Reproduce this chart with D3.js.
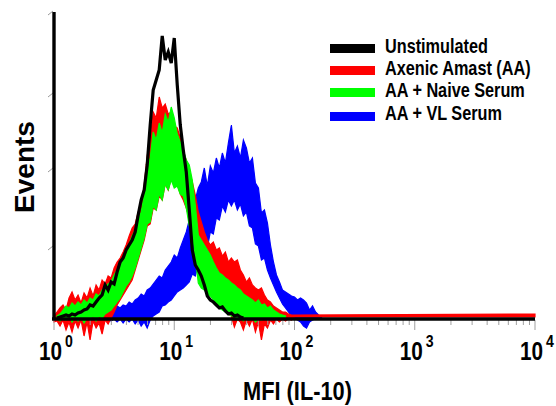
<!DOCTYPE html>
<html><head><meta charset="utf-8">
<script src="https://cdn.jsdelivr.net/npm/d3@7/dist/d3.min.js"></script>
<style>html,body{margin:0;padding:0;background:#fff}svg{display:block}</style>
</head><body><div id="chart"></div>
<script>
// ---- data (events per log channel; 40 channels per decade, MFI = 10^(ch/40)) ----
const channelsPerDecade = 40;
const seriesNames = ["Unstimulated", "Axenic Amast (AA)", "AA + Naive Serum", "AA + VL Serum"];
const seriesColors = ["#000000", "#ff0000", "#00ff00", "#0000ff"];

// Unstimulated (smooth line)
const blackStart = 1;
const blackCounts = [0,1,2,3,2,4,3,5,6,8, 9,13,12,16,20,23,33,28,36,34,
  46,56,60,68,73,78,86,103,118,128, 153,193,228,238,248,282,258,266,255,280,
  233,193,168,146,108,68,53,48,42,33, 22,18,16,13,10,11,7,4,5,2, 3,1,0];

// noisy histograms: upper / lower envelope of the jagged trace
const redStart = 0;
const redUpper = [2,6,10,13,8,20,26,18,23,15, 25,20,30,22,33,28,38,34,42,40,
  50,56,60,66,73,82,90,94,106,112, 133,162,180,206,200,221,210,214,204,206,
  192,190,180,166,158,146,136,123,106,96, 86,78,73,76,68,70,62,66,56,60,
  56,58,48,43,36,40,33,30,28,30, 23,18,16,12,10,8,6,6,4,3, 3];
const redLower = [-4,-3,-8,-2,-12,-4,-14,-3,-10,-2, -18,-4,-22,-3,-10,-5,-16,-2,-6,0,
  6,13,18,23,28,33,38,48,58,68, 78,92,94,110,108,122,118,134,128,140, 132,134,124,118,
  110,100,88,70,50,36,30,28,26,22, 18,13,10,8,4,2,
  -9,-1,-4,-12,-2,-8,-1,-14,-4,-22, -6,-10,-2,-6,-1,-4,-1,-3,-1,-2, 1];
const redTail = {channel: 160, upper: 4, lower: 1};

const greenStart = 1;
const greenUpper = [2,4,8,12,10,15,12,16,13,18, 15,20,18,24,22,28,30,34,36,43,
  48,54,60,68,74,82,88,98,106,123, 150,160,186,178,195,185,204,196,211,200,
  184,176,168,158,153,138,113,83,78,73, 68,63,56,50,45,43,40,38,35,33,
  30,28,24,22,20,18,15,18,13,14, 10,12,8,6,4,3,2];
const greenLower = [-1,-3,1,-2,2,-4,0,-3,1,-5, 0,-2,2,-3,2,0,4,6,8,12,
  16,20,26,32,36,42,50,60,70,80, 94,96,112,108,124,118,134,128,138,130,
  132,124,122,110,92,86,60,35,30,28, 24,22,18,14,10,8,6,4,2,1,
  -2,0,-3,0,-2,0,-4,-1,-2,0, -2,0,-1,0,-1,0,0];

const blueStart = 15;
const blueUpper = [4,8,6,10,7,9,12,10,13,12, 16,14,18,20,24,22,28,30,34,38,
  42,40,48,52,56,63,60,70,78,86, 98,112,118,130,136,150,132,152,145,160,
  150,165,155,175,193,165,172,160,178,170, 155,160,135,130,105,108,95,73,56,43,
  36,28,26,24,22,21,18,20,18,15, 8,12,6,3,1];
const blueLower = [-2,-1,-2,-1,-3,-1,-4,-1,-5,-1, -4,-1,-6,-2,-8,-4,-10,-2,2,4,
  6,12,13,16,18,22,26,28,30,33, 36,44,42,54,52,66,70,86,84,100,
  98,112,106,118,112,118,108,114,102,106, 92,90,74,72,58,60,48,40,33,26,
  20,14,10,6,2,0,-2,-4,-8,-10, -4,-2,-1,0,0];

const xMajorExps = [0, 1, 2, 3, 4];
const xMinorMults = [2, 3, 4, 5, 6, 7, 8, 9];
const yTicks = [70, 148, 223, 305];
const xTitle = "MFI (IL-10)";
const yTitle = "Events";

// ---- chart ----
const W = 556, H = 406;
const svg = d3.select("#chart").append("svg").attr("width", W).attr("height", H);
const x = d3.scaleLog().domain([1, 10000]).range([54, 535]);
const y = d3.scaleLinear().domain([0, 306]).range([318, 12]);
const FONT = "'Liberation Sans', Arial, Helvetica, sans-serif";
const mfi = ch => Math.pow(10, ch / channelsPerDecade);

function band(start, up, lo, tail) {
  const pts = up.map((u, k) => ({m: mfi(start + k), hi: u, lo: lo[k]}));
  if (tail) pts.push({m: mfi(tail.channel), hi: tail.upper, lo: tail.lower});
  return pts;
}
const area = d3.area().x(d => x(d.m)).y0(d => y(d.lo)).y1(d => y(d.hi));

const bands = [
  {pts: band(blueStart, blueUpper, blueLower), c: seriesColors[3]},
  {pts: band(redStart, redUpper, redLower, redTail), c: seriesColors[1]},
  {pts: band(greenStart, greenUpper, greenLower), c: seriesColors[2]}
];
bands.forEach(b => {
  svg.append("path").attr("d", area(b.pts)).attr("fill", b.c)
    .attr("stroke", b.c).attr("stroke-width", 1.2).attr("stroke-linejoin", "miter");
});

// axes ticks
const gx = svg.append("g");
xMajorExps.forEach(e => {
  const tx = x(Math.pow(10, e));
  gx.append("line").attr("x1", tx).attr("x2", tx).attr("y1", 320).attr("y2", 330)
    .attr("stroke", "#a0a0a0").attr("stroke-width", 1);
  if (e < 4) xMinorMults.forEach(m => {
    const mx = x(m * Math.pow(10, e));
    gx.append("line").attr("x1", mx).attr("x2", mx).attr("y1", 320).attr("y2", 325)
      .attr("stroke", "#a0a0a0").attr("stroke-width", 1);
  });
  gx.append("text").attr("transform", `translate(${tx + 8},360) scale(0.83,1)`)
    .attr("text-anchor", "end").attr("font-family", FONT).attr("font-weight", "bold")
    .attr("font-size", 25).attr("fill", "#000").text("10");
  gx.append("text").attr("transform", `translate(${tx + 11},347) scale(0.83,1)`)
    .attr("text-anchor", "start").attr("font-family", FONT).attr("font-weight", "bold")
    .attr("font-size", 17).attr("fill", "#000").text(String(e));
});
yTicks.forEach(v => {
  const ty = y(v);
  svg.append("line").attr("x1", 48).attr("x2", 53).attr("y1", ty + 2).attr("y2", ty - 2)
    .attr("stroke", "#999").attr("stroke-width", 1);
});

// black line
const line = d3.line().x(d => x(d.m)).y(d => y(d.v));
svg.append("path")
  .attr("d", line(blackCounts.map((v, k) => ({m: mfi(blackStart + k), v}))))
  .attr("fill", "none").attr("stroke", seriesColors[0]).attr("stroke-width", 3.2)
  .attr("stroke-linejoin", "miter");

// axis lines
svg.append("line").attr("x1", 54).attr("x2", 54).attr("y1", 12).attr("y2", 320)
  .attr("stroke", "#000").attr("stroke-width", 3.4);
svg.append("line").attr("x1", 52).attr("x2", x(10000)).attr("y1", 319).attr("y2", 319)
  .attr("stroke", "#000").attr("stroke-width", 3.6);

// titles
svg.append("text").attr("transform", `translate(297.5,400) scale(0.855,1)`)
  .attr("text-anchor", "middle").attr("font-family", FONT).attr("font-weight", "bold")
  .attr("font-size", 25.5).text(xTitle);
svg.append("text").attr("transform", `translate(34,167) rotate(-90)`)
  .attr("text-anchor", "middle").attr("font-family", FONT).attr("font-weight", "bold")
  .attr("font-size", 28).text(yTitle);

// legend
const legY = [44, 66, 88, 112];
const legBase = [53, 75, 97, 120];
seriesNames.forEach((n, i) => {
  svg.append("rect").attr("x", 330).attr("y", legY[i]).attr("width", 45).attr("height", 9)
    .attr("fill", seriesColors[i]);
  svg.append("text").attr("transform", `translate(385,${legBase[i]}) scale(0.834,1)`)
    .attr("font-family", FONT).attr("font-weight", "bold").attr("font-size", 19.5)
    .attr("fill", "#000").text(n);
});
</script></body></html>
